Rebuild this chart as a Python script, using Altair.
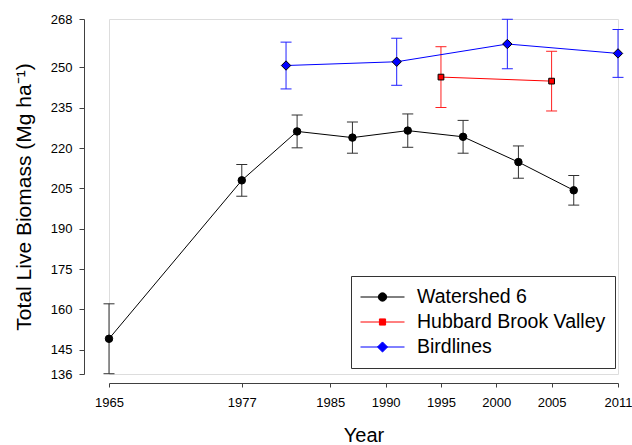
import altair as alt
import pandas as pd

# ---- data ----
series_names = ["Watershed 6", "Hubbard Brook Valley", "Birdlines"]

w6_years = [1965, 1977, 1982, 1987, 1992, 1997, 2002, 2007]
w6_biomass = [149.1, 208.0, 226.2, 223.9, 226.5, 224.2, 214.8, 204.3]
w6_err = [13.0, 5.9, 6.1, 5.8, 6.2, 6.1, 6.0, 5.5]

hbv_years = [1995, 2005]
hbv_biomass = [246.4, 244.9]
hbv_err = [11.3, 11.1]

bird_years = [1981, 1991, 2001, 2011]
bird_biomass = [250.7, 252.1, 258.7, 255.2]
bird_err = [8.7, 8.75, 9.2, 8.9]

x_ticks = [1965, 1977, 1985, 1990, 1995, 2000, 2005, 2011]
y_ticks = [136, 145, 160, 175, 190, 205, 220, 235, 250, 268]

# ---- styles ----
line_colors = ["#000000", "#ff0000", "#0000ff"]
errbar_colors = ["#303030", "#ff2020", "#2020ff"]
marker_shapes = ["circle", "square", "diamond"]
marker_sizes = [56, 33, 88]
legend_paths = [
    "M-1,0H1M0.19,0A0.19,0.19,0,1,1,-0.19,0A0.19,0.19,0,1,1,0.19,0Z",
    "M-1,0H1M-0.14,-0.14H0.14V0.14H-0.14Z",
    "M-1,0H1M0,-0.23L0.23,0L0,0.23L-0.23,0Z",
]

rows = []
for name, yrs, vals, errs in [
    (series_names[0], w6_years, w6_biomass, w6_err),
    (series_names[1], hbv_years, hbv_biomass, hbv_err),
    (series_names[2], bird_years, bird_biomass, bird_err),
]:
    for yr, v, e in zip(yrs, vals, errs):
        rows.append({"series": name, "year": yr, "biomass": v, "lo": v - e, "hi": v + e})
df = pd.DataFrame(rows)

FONT = "Liberation Sans"

x_scale = alt.Scale(domain=[1965, 2011], nice=False, zero=False)
y_scale = alt.Scale(domain=[136, 268], nice=False, zero=False)

x_axis = alt.Axis(
    values=x_ticks, format="d", grid=False, offset=9, tickSize=4,
    labelPadding=9, labelFontSize=13, labelFlush=False, labelOverlap=False,
    title="Year", titleFontSize=20, titleFontWeight="normal", titlePadding=16,
    domainColor="#404040", tickColor="#404040", labelColor="black", titleColor="black",
)
y_axis = alt.Axis(
    values=y_ticks, grid=False, offset=25, tickSize=5, labelPadding=7,
    labelFontSize=13, labelFlush=False, labelOverlap=False,
    title="Total Live Biomass (Mg ha⁻¹)", titleFontSize=21, titleFontWeight="normal",
    titlePadding=16, domainColor="#404040", tickColor="#404040",
    labelColor="black", titleColor="black",
)


def X():
    return alt.X("year:Q", scale=x_scale, axis=x_axis)


def Y(field):
    return alt.Y(field, scale=y_scale, axis=y_axis)


leg = alt.Legend(
    title=None, orient="none", legendX=242, legendY=257, padding=9,
    strokeColor="#333333", labelFontSize=19.5, labelLimit=300, labelFont=FONT,
    symbolSize=1936, symbolStrokeWidth=1, clipHeight=24, rowPadding=1,
    labelOffset=12, symbolOpacity=1, labelColor="black",
)
stroke_scale = alt.Scale(domain=series_names, range=line_colors)

base = alt.Chart(df)

layers = []
# error bars (one layer per series, constant colour)
for name, col in zip(series_names, errbar_colors):
    sub = base.transform_filter(alt.datum.series == name)
    layers.append(sub.mark_rule(strokeWidth=1, color=col).encode(x=X(), y=Y("lo:Q"), y2="hi:Q"))
    layers.append(sub.mark_tick(orient="horizontal", size=11, thickness=1, opacity=1, color=col)
                  .encode(x=X(), y=Y("lo:Q")))
    layers.append(sub.mark_tick(orient="horizontal", size=11, thickness=1, opacity=1, color=col)
                  .encode(x=X(), y=Y("hi:Q")))

# connecting lines
layers.append(
    base.mark_line(strokeWidth=1).encode(
        x=X(), y=Y("biomass:Q"),
        stroke=alt.Stroke("series:N", scale=stroke_scale, legend=leg),
    )
)

# markers
for name, shp, sz, col in zip(series_names, marker_shapes, marker_sizes, line_colors):
    layers.append(
        base.transform_filter(alt.datum.series == name)
        .mark_point(filled=True, opacity=1, shape=shp, size=sz, fill=col, stroke="black", strokeWidth=1)
        .encode(x=X(), y=Y("biomass:Q"))
    )

# legend-only layer (no rows drawn)
layers.append(
    base.transform_filter("false").mark_point(filled=True, opacity=1).encode(
        x=X(), y=Y("biomass:Q"),
        fill=alt.Fill("series:N", scale=alt.Scale(domain=series_names, range=line_colors), legend=leg),
        stroke=alt.Stroke("series:N", scale=stroke_scale, legend=leg),
        shape=alt.Shape("series:N", scale=alt.Scale(domain=series_names, range=legend_paths), legend=leg),
    )
)

chart = (
    alt.layer(*layers)
    .properties(
        width=509, height=355,
        autosize=alt.AutoSizeParams(type="none"),
        padding={"left": 109, "top": 19, "right": 14, "bottom": 71},
        background="white",
    )
    .configure_view(stroke=None)
    .configure(font=FONT)
)

chart.save("out.html", embed_options={"renderer": "svg", "actions": False})
